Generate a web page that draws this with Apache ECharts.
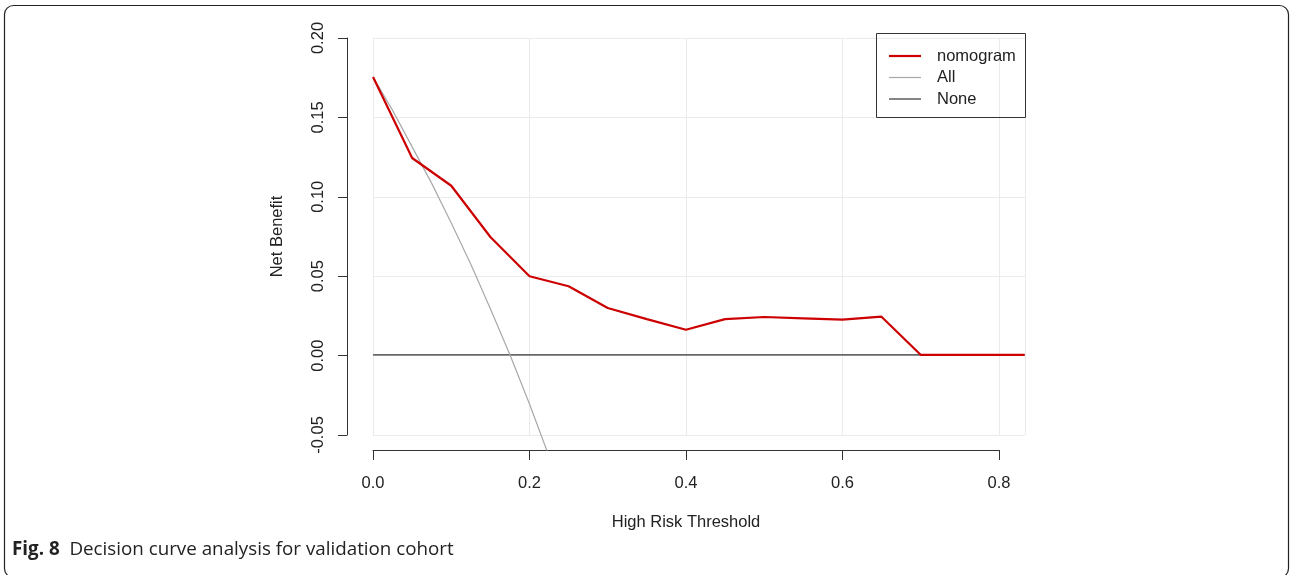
<!DOCTYPE html>
<html>
<head>
<meta charset="utf-8">
<script src="https://cdn.jsdelivr.net/npm/echarts@6/dist/echarts.min.js"></script>
<style>
  html, body { margin: 0; padding: 0; background: #fff; }
  #chart { width: 1290px; height: 575px; }
</style>
</head>
<body>
<div id="chart"></div>
<script>
// values
const seriesNames = ["nomogram", "All", "None"];

const nomogramPts = [
  [0, 0.175], [0.05, 0.124], [0.10, 0.1065], [0.15, 0.0742], [0.20, 0.0495],
  [0.25, 0.0432], [0.30, 0.0295], [0.35, 0.0225], [0.40, 0.0158], [0.45, 0.0225],
  [0.50, 0.0238], [0.55, 0.023], [0.60, 0.0222], [0.65, 0.0240], [0.70, 0],
  [0.75, 0], [0.80, 0], [0.833, 0]
];

const allPts = [
  [0, 0.175], [0.025, 0.154], [0.05, 0.131], [0.075, 0.108], [0.10, 0.083],
  [0.125, 0.057], [0.15, 0.029], [0.175, 0.000], [0.20, -0.031], [0.225, -0.064],
  [0.25, -0.100]
];

const nonePts = [[0, 0], [0.833, 0]];

const xTicks = [0, 0.2, 0.4, 0.6, 0.8];
const yTicks = [-0.05, 0, 0.05, 0.10, 0.15, 0.20];

const colors = { nomogram: "#cc0000", all: "#a8a8a8", none: "#333333" };
const axisColor = "#333";
const labelFont = { fontFamily: "Liberation Sans, Arial, sans-serif", fontSize: 16.5, color: "#222" };

let chart = echarts.init(document.getElementById("chart"), null, { renderer: "canvas" });

// thin bar used as legend key (a plain line, no marker)
let lineIcon = (h) => "path://M0,0L32,0L32," + h + "L0," + h + "Z";

chart.setOption({
  animation: false,
  backgroundColor: "#fff",
  grid: [
    // 0: plotting region (R's extended usr region)
    { left: 347, right: 239, top: 21.5, bottom: 125 },
    // 1: grid lines + y axis
    { left: 373, right: 265, top: 38, bottom: 140 },
    // 2: x axis only
    { left: 373, right: 291, top: 300, bottom: 125 }
  ],
  xAxis: [
    { gridIndex: 0, type: "value", min: -0.0333, max: 0.8667, show: false },
    {
      gridIndex: 1, type: "value", min: 0, max: 0.8333, interval: 0.2,
      axisLine: { show: false }, axisTick: { show: false }, axisLabel: { show: false },
      splitLine: { show: true, lineStyle: { color: "#ebebeb", width: 1 } }
    },
    {
      gridIndex: 2, type: "value", min: xTicks[0], max: xTicks[xTicks.length - 1], interval: 0.2,
      position: "bottom",
      axisLine: { show: true, onZero: false, lineStyle: { color: axisColor, width: 1 } },
      axisTick: { show: true, inside: false, length: 10, lineStyle: { color: axisColor } },
      axisLabel: Object.assign({ margin: 25, formatter: (v) => v.toFixed(1) }, labelFont),
      splitLine: { show: false },
      name: "High Risk Threshold", nameLocation: "middle", nameGap: 64,
      nameTextStyle: labelFont
    }
  ],
  yAxis: [
    { gridIndex: 0, type: "value", min: -0.06, max: 0.21, show: false },
    {
      gridIndex: 1, type: "value", min: yTicks[0], max: yTicks[yTicks.length - 1], interval: 0.05,
      offset: 26,
      axisLine: { show: true, onZero: false, lineStyle: { color: axisColor, width: 1 } },
      axisTick: { show: true, inside: false, length: 9, lineStyle: { color: axisColor } },
      axisLabel: Object.assign({ margin: 20, rotate: 90, formatter: (v) => v.toFixed(2) }, labelFont),
      splitLine: { show: true, lineStyle: { color: "#ebebeb", width: 1 } },
      name: "Net Benefit", nameLocation: "middle", nameGap: 61, nameRotate: 90,
      nameTextStyle: labelFont
    },
    { gridIndex: 2, type: "value", show: false }
  ],
  legend: {
    left: 889, top: 47.5, orient: "vertical",
    itemWidth: 32, itemHeight: 14, itemGap: 4.5, padding: 0,
    textStyle: Object.assign({ padding: [0, 0, 0, 11], lineHeight: 16 }, labelFont),
    data: [
      { name: seriesNames[0], icon: lineIcon(2.2) },
      { name: seriesNames[1], icon: lineIcon(1.2) },
      { name: seriesNames[2], icon: lineIcon(1.2) }
    ]
  },
  graphic: [
    {
      type: "rect", shape: { x: 876.5, y: 33.5, width: 149, height: 84 },
      style: { fill: "none", stroke: "#333", lineWidth: 1 }, z: 10
    },
    {
      type: "rect", shape: { x: 4.5, y: 5.5, width: 1284, height: 572, r: 9 },
      style: { fill: "none", stroke: "#222", lineWidth: 1.2 }, z: 10
    },
    {
      type: "text", left: 12, top: 540,
      style: {
        text: "{b|Fig. 8}  Decision curve analysis for validation cohort",
        fontFamily: "Open Sans, Noto Sans, sans-serif", fontSize: 18.8, fill: "#222",
        rich: { b: { fontFamily: "Open Sans, Noto Sans, sans-serif", fontSize: 18.8, fontWeight: "bold", fill: "#222" } }
      }
    }
  ],
  series: [
    {
      name: "None", type: "line", xAxisIndex: 0, yAxisIndex: 0, data: nonePts,
      symbol: "none", lineStyle: { color: colors.none, width: 1.3 }, itemStyle: { color: colors.none }, z: 2
    },
    {
      name: "All", type: "line", xAxisIndex: 0, yAxisIndex: 0, data: allPts,
      symbol: "none", clip: true, lineStyle: { color: colors.all, width: 1.2 }, itemStyle: { color: colors.all }, z: 3
    },
    {
      name: "nomogram", type: "line", xAxisIndex: 0, yAxisIndex: 0, data: nomogramPts,
      symbol: "none", lineStyle: { color: colors.nomogram, width: 2.2 }, itemStyle: { color: colors.nomogram }, z: 4
    }
  ]
});
</script>
</body>
</html>
